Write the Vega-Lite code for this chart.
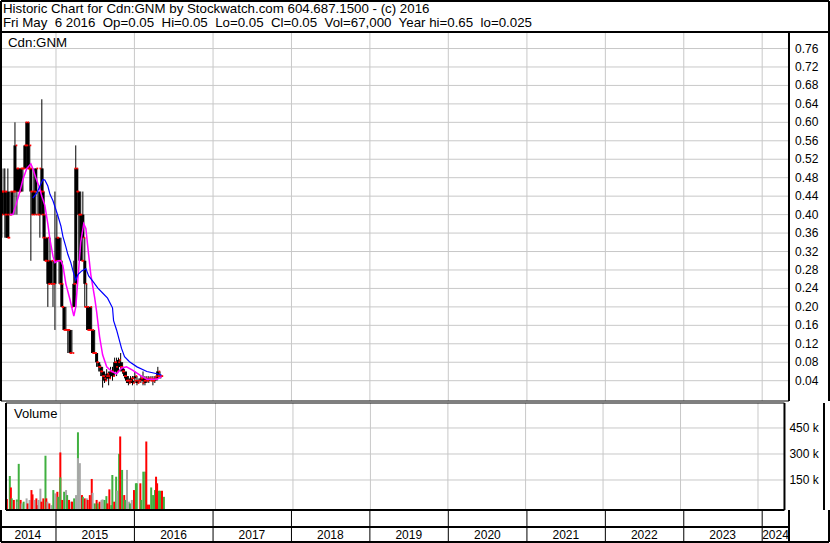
{
  "$schema": "https://vega.github.io/schema/vega-lite/v6.json",
  "padding": 0,
  "background": "white",
  "spacing": 2,
  "bounds": "flush",
  "config": {
    "view": {"stroke": null},
    "font": "Liberation Sans",
    "text": {"font": "Liberation Sans", "color": "black"}
  },
  "datasets": {
    "years": [
      {"d": "2015-01-01"}, {"d": "2016-01-01"}, {"d": "2017-01-01"}, {"d": "2018-01-01"}, {"d": "2019-01-01"},
      {"d": "2020-01-01"}, {"d": "2021-01-01"}, {"d": "2022-01-01"}, {"d": "2023-01-01"}, {"d": "2024-01-01"}
    ],
    "ylab": [
      {"t": "2014", "d": "2014-08-23"}, {"t": "2015", "d": "2015-07-01"}, {"t": "2016", "d": "2016-07-01"},
      {"t": "2017", "d": "2017-07-01"}, {"t": "2018", "d": "2018-07-01"}, {"t": "2019", "d": "2019-07-01"},
      {"t": "2020", "d": "2020-07-01"}, {"t": "2021", "d": "2021-07-01"}, {"t": "2022", "d": "2022-07-01"},
      {"t": "2023", "d": "2023-07-01"}, {"t": "2024", "d": "2024-03-03"}
    ],
    "pticks": [
      {"v": 0.04}, {"v": 0.08}, {"v": 0.12}, {"v": 0.16}, {"v": 0.2}, {"v": 0.24}, {"v": 0.28}, {"v": 0.32},
      {"v": 0.36}, {"v": 0.4}, {"v": 0.44}, {"v": 0.48}, {"v": 0.52}, {"v": 0.56}, {"v": 0.6}, {"v": 0.64},
      {"v": 0.68}, {"v": 0.72}, {"v": 0.76}
    ],
    "vticks": [{"v": 150000, "t": "150 k"}, {"v": 300000, "t": "300 k"}, {"v": 450000, "t": "450 k"}],
    "ohlc": [
      {"d": "2014-04-20", "o": 0.45, "h": 0.5, "l": 0.35, "c": 0.4},
      {"d": "2014-04-24", "o": 0.4, "h": 0.5, "l": 0.35, "c": 0.45},
      {"d": "2014-05-04", "o": 0.45, "h": 0.5, "l": 0.4, "c": 0.45},
      {"d": "2014-05-08", "o": 0.45, "h": 0.5, "l": 0.35, "c": 0.4},
      {"d": "2014-05-17", "o": 0.4, "h": 0.45, "l": 0.35, "c": 0.35},
      {"d": "2014-05-22", "o": 0.45, "h": 0.5, "l": 0.35, "c": 0.35},
      {"d": "2014-05-31", "o": 0.4, "h": 0.45, "l": 0.4, "c": 0.4},
      {"d": "2014-06-10", "o": 0.4, "h": 0.45, "l": 0.4, "c": 0.45},
      {"d": "2014-06-14", "o": 0.45, "h": 0.45, "l": 0.4, "c": 0.45},
      {"d": "2014-06-24", "o": 0.45, "h": 0.6, "l": 0.4, "c": 0.55},
      {"d": "2014-07-03", "o": 0.45, "h": 0.5, "l": 0.4, "c": 0.5},
      {"d": "2014-07-12", "o": 0.5, "h": 0.5, "l": 0.45, "c": 0.45},
      {"d": "2014-07-22", "o": 0.45, "h": 0.5, "l": 0.45, "c": 0.5},
      {"d": "2014-07-31", "o": 0.5, "h": 0.5, "l": 0.45, "c": 0.5},
      {"d": "2014-08-09", "o": 0.5, "h": 0.55, "l": 0.5, "c": 0.55},
      {"d": "2014-08-18", "o": 0.55, "h": 0.6, "l": 0.5, "c": 0.6},
      {"d": "2014-08-23", "o": 0.6, "h": 0.6, "l": 0.5, "c": 0.5},
      {"d": "2014-08-28", "o": 0.55, "h": 0.6, "l": 0.5, "c": 0.55},
      {"d": "2014-09-01", "o": 0.5, "h": 0.55, "l": 0.5, "c": 0.5},
      {"d": "2014-09-06", "o": 0.5, "h": 0.5, "l": 0.3, "c": 0.45},
      {"d": "2014-09-15", "o": 0.45, "h": 0.45, "l": 0.4, "c": 0.4},
      {"d": "2014-09-20", "o": 0.4, "h": 0.5, "l": 0.4, "c": 0.45},
      {"d": "2014-09-29", "o": 0.45, "h": 0.5, "l": 0.4, "c": 0.5},
      {"d": "2014-10-09", "o": 0.4, "h": 0.45, "l": 0.4, "c": 0.4},
      {"d": "2014-10-18", "o": 0.4, "h": 0.45, "l": 0.35, "c": 0.45},
      {"d": "2014-10-27", "o": 0.5, "h": 0.65, "l": 0.4, "c": 0.45},
      {"d": "2014-11-01", "o": 0.45, "h": 0.5, "l": 0.4, "c": 0.4},
      {"d": "2014-11-06", "o": 0.4, "h": 0.45, "l": 0.35, "c": 0.35},
      {"d": "2014-11-10", "o": 0.35, "h": 0.4, "l": 0.3, "c": 0.3},
      {"d": "2014-11-20", "o": 0.3, "h": 0.35, "l": 0.3, "c": 0.35},
      {"d": "2014-11-24", "o": 0.3, "h": 0.3, "l": 0.2, "c": 0.25},
      {"d": "2014-12-04", "o": 0.3, "h": 0.35, "l": 0.25, "c": 0.25},
      {"d": "2014-12-08", "o": 0.25, "h": 0.3, "l": 0.25, "c": 0.3},
      {"d": "2014-12-18", "o": 0.25, "h": 0.3, "l": 0.2, "c": 0.25},
      {"d": "2014-12-27", "o": 0.25, "h": 0.45, "l": 0.15, "c": 0.3},
      {"d": "2015-01-05", "o": 0.3, "h": 0.4, "l": 0.3, "c": 0.35},
      {"d": "2015-01-15", "o": 0.35, "h": 0.35, "l": 0.25, "c": 0.3},
      {"d": "2015-01-24", "o": 0.3, "h": 0.35, "l": 0.25, "c": 0.25},
      {"d": "2015-01-28", "o": 0.25, "h": 0.3, "l": 0.2, "c": 0.2},
      {"d": "2015-02-07", "o": 0.2, "h": 0.2, "l": 0.15, "c": 0.15},
      {"d": "2015-02-16", "o": 0.15, "h": 0.2, "l": 0.15, "c": 0.15},
      {"d": "2015-02-25", "o": 0.15, "h": 0.15, "l": 0.1, "c": 0.15},
      {"d": "2015-03-07", "o": 0.15, "h": 0.15, "l": 0.1, "c": 0.1},
      {"d": "2015-03-16", "o": 0.1, "h": 0.15, "l": 0.1, "c": 0.1},
      {"d": "2015-03-25", "o": 0.2, "h": 0.3, "l": 0.2, "c": 0.25},
      {"d": "2015-04-03", "o": 0.25, "h": 0.55, "l": 0.2, "c": 0.5},
      {"d": "2015-04-08", "o": 0.5, "h": 0.5, "l": 0.4, "c": 0.45},
      {"d": "2015-04-17", "o": 0.45, "h": 0.45, "l": 0.3, "c": 0.4},
      {"d": "2015-04-26", "o": 0.4, "h": 0.45, "l": 0.3, "c": 0.3},
      {"d": "2015-05-06", "o": 0.4, "h": 0.45, "l": 0.3, "c": 0.35},
      {"d": "2015-05-15", "o": 0.3, "h": 0.35, "l": 0.2, "c": 0.25},
      {"d": "2015-05-24", "o": 0.2, "h": 0.25, "l": 0.15, "c": 0.2},
      {"d": "2015-05-29", "o": 0.2, "h": 0.2, "l": 0.15, "c": 0.15},
      {"d": "2015-06-07", "o": 0.15, "h": 0.2, "l": 0.15, "c": 0.2},
      {"d": "2015-06-16", "o": 0.15, "h": 0.2, "l": 0.1, "c": 0.15},
      {"d": "2015-06-21", "o": 0.15, "h": 0.15, "l": 0.1, "c": 0.1},
      {"d": "2015-06-30", "o": 0.1, "h": 0.15, "l": 0.1, "c": 0.1},
      {"d": "2015-07-09", "o": 0.1, "h": 0.1, "l": 0.07, "c": 0.08},
      {"d": "2015-07-19", "o": 0.08, "h": 0.08, "l": 0.06, "c": 0.07},
      {"d": "2015-07-28", "o": 0.07, "h": 0.075, "l": 0.05, "c": 0.06},
      {"d": "2015-08-06", "o": 0.06, "h": 0.07, "l": 0.025, "c": 0.05},
      {"d": "2015-08-15", "o": 0.05, "h": 0.06, "l": 0.035, "c": 0.04},
      {"d": "2015-08-25", "o": 0.045, "h": 0.065, "l": 0.04, "c": 0.055},
      {"d": "2015-09-03", "o": 0.05, "h": 0.06, "l": 0.03, "c": 0.045},
      {"d": "2015-09-12", "o": 0.05, "h": 0.07, "l": 0.045, "c": 0.06},
      {"d": "2015-09-21", "o": 0.06, "h": 0.07, "l": 0.04, "c": 0.05},
      {"d": "2015-10-01", "o": 0.06, "h": 0.09, "l": 0.05, "c": 0.08},
      {"d": "2015-10-10", "o": 0.08, "h": 0.09, "l": 0.05, "c": 0.06},
      {"d": "2015-10-19", "o": 0.07, "h": 0.09, "l": 0.06, "c": 0.085},
      {"d": "2015-10-29", "o": 0.08, "h": 0.1, "l": 0.06, "c": 0.07},
      {"d": "2015-11-07", "o": 0.07, "h": 0.08, "l": 0.055, "c": 0.06},
      {"d": "2015-11-16", "o": 0.06, "h": 0.065, "l": 0.045, "c": 0.05},
      {"d": "2015-11-25", "o": 0.05, "h": 0.06, "l": 0.035, "c": 0.04},
      {"d": "2015-12-04", "o": 0.04, "h": 0.05, "l": 0.03, "c": 0.035},
      {"d": "2015-12-14", "o": 0.04, "h": 0.05, "l": 0.035, "c": 0.045},
      {"d": "2015-12-23", "o": 0.04, "h": 0.05, "l": 0.03, "c": 0.035},
      {"d": "2016-01-03", "o": 0.045, "h": 0.06, "l": 0.035, "c": 0.05},
      {"d": "2016-01-13", "o": 0.04, "h": 0.05, "l": 0.03, "c": 0.035},
      {"d": "2016-01-22", "o": 0.04, "h": 0.045, "l": 0.035, "c": 0.04},
      {"d": "2016-01-31", "o": 0.04, "h": 0.05, "l": 0.035, "c": 0.045},
      {"d": "2016-02-10", "o": 0.045, "h": 0.06, "l": 0.03, "c": 0.04},
      {"d": "2016-02-19", "o": 0.035, "h": 0.05, "l": 0.03, "c": 0.045},
      {"d": "2016-02-28", "o": 0.04, "h": 0.05, "l": 0.035, "c": 0.04},
      {"d": "2016-03-08", "o": 0.04, "h": 0.05, "l": 0.035, "c": 0.045},
      {"d": "2016-03-18", "o": 0.045, "h": 0.05, "l": 0.04, "c": 0.045},
      {"d": "2016-03-27", "o": 0.04, "h": 0.05, "l": 0.03, "c": 0.04},
      {"d": "2016-04-05", "o": 0.04, "h": 0.05, "l": 0.035, "c": 0.045},
      {"d": "2016-04-15", "o": 0.045, "h": 0.06, "l": 0.04, "c": 0.05},
      {"d": "2016-04-19", "o": 0.05, "h": 0.07, "l": 0.045, "c": 0.06},
      {"d": "2016-04-29", "o": 0.05, "h": 0.06, "l": 0.045, "c": 0.05},
      {"d": "2016-05-03", "o": 0.05, "h": 0.05, "l": 0.045, "c": 0.05}
    ],
    "mag": [
      {"d": "2014-05-31", "v": 0.4}, {"d": "2014-06-14", "v": 0.4}, {"d": "2014-06-28", "v": 0.42},
      {"d": "2014-07-17", "v": 0.45}, {"d": "2014-07-31", "v": 0.476}, {"d": "2014-08-18", "v": 0.5},
      {"d": "2014-09-06", "v": 0.51}, {"d": "2014-09-15", "v": 0.5}, {"d": "2014-09-29", "v": 0.48},
      {"d": "2014-10-13", "v": 0.462}, {"d": "2014-10-27", "v": 0.44}, {"d": "2014-11-10", "v": 0.42},
      {"d": "2014-11-24", "v": 0.38}, {"d": "2014-12-04", "v": 0.346}, {"d": "2014-12-18", "v": 0.31},
      {"d": "2014-12-27", "v": 0.296}, {"d": "2015-01-10", "v": 0.3}, {"d": "2015-01-24", "v": 0.3},
      {"d": "2015-02-02", "v": 0.29}, {"d": "2015-02-16", "v": 0.25}, {"d": "2015-03-07", "v": 0.216},
      {"d": "2015-03-25", "v": 0.18}, {"d": "2015-04-03", "v": 0.2}, {"d": "2015-04-13", "v": 0.26},
      {"d": "2015-04-26", "v": 0.34}, {"d": "2015-05-10", "v": 0.38}, {"d": "2015-05-20", "v": 0.37},
      {"d": "2015-05-29", "v": 0.33}, {"d": "2015-06-12", "v": 0.27}, {"d": "2015-06-30", "v": 0.22},
      {"d": "2015-07-09", "v": 0.19}, {"d": "2015-07-23", "v": 0.135}, {"d": "2015-08-06", "v": 0.096},
      {"d": "2015-08-25", "v": 0.07}, {"d": "2015-09-17", "v": 0.06}, {"d": "2015-10-10", "v": 0.055},
      {"d": "2015-11-02", "v": 0.067}, {"d": "2015-11-25", "v": 0.07}, {"d": "2015-12-23", "v": 0.063},
      {"d": "2016-01-27", "v": 0.052}, {"d": "2016-02-28", "v": 0.043}, {"d": "2016-03-27", "v": 0.043},
      {"d": "2016-04-15", "v": 0.043}, {"d": "2016-05-06", "v": 0.049}
    ],
    "blue": [
      {"d": "2014-09-15", "v": 0.436}, {"d": "2014-10-04", "v": 0.447}, {"d": "2014-10-23", "v": 0.467},
      {"d": "2014-11-01", "v": 0.476}, {"d": "2014-11-10", "v": 0.475}, {"d": "2014-11-24", "v": 0.462},
      {"d": "2014-12-04", "v": 0.444}, {"d": "2014-12-18", "v": 0.43}, {"d": "2015-01-01", "v": 0.41},
      {"d": "2015-01-10", "v": 0.397}, {"d": "2015-01-24", "v": 0.375}, {"d": "2015-02-02", "v": 0.353},
      {"d": "2015-02-16", "v": 0.33}, {"d": "2015-02-25", "v": 0.314}, {"d": "2015-03-11", "v": 0.296},
      {"d": "2015-03-21", "v": 0.278}, {"d": "2015-04-03", "v": 0.258}, {"d": "2015-04-13", "v": 0.27},
      {"d": "2015-05-01", "v": 0.278}, {"d": "2015-05-20", "v": 0.283}, {"d": "2015-06-02", "v": 0.267},
      {"d": "2015-06-21", "v": 0.256}, {"d": "2015-07-14", "v": 0.241}, {"d": "2015-08-06", "v": 0.23},
      {"d": "2015-08-29", "v": 0.219}, {"d": "2015-09-21", "v": 0.198}, {"d": "2015-09-26", "v": 0.17},
      {"d": "2015-10-10", "v": 0.15}, {"d": "2015-11-02", "v": 0.11}, {"d": "2015-11-16", "v": 0.092},
      {"d": "2015-12-09", "v": 0.081}, {"d": "2016-01-13", "v": 0.07}, {"d": "2016-02-28", "v": 0.06},
      {"d": "2016-04-15", "v": 0.055}, {"d": "2016-05-06", "v": 0.052}
    ],
    "vol": [
      {"d": "2014-04-20", "v": 55000, "c": "f"}, {"d": "2014-04-24", "v": 40000, "c": "d"},
      {"d": "2014-05-08", "v": 173000, "c": "u"}, {"d": "2014-05-13", "v": 107000, "c": "d"},
      {"d": "2014-05-17", "v": 44000, "c": "u"}, {"d": "2014-05-27", "v": 35000, "c": "d"},
      {"d": "2014-06-10", "v": 38000, "c": "u"}, {"d": "2014-06-14", "v": 25000, "c": "f"},
      {"d": "2014-06-19", "v": 243000, "c": "u"}, {"d": "2014-06-28", "v": 35000, "c": "d"},
      {"d": "2014-07-03", "v": 15000, "c": "f"}, {"d": "2014-07-12", "v": 25000, "c": "u"},
      {"d": "2014-07-26", "v": 44000, "c": "f"}, {"d": "2014-07-31", "v": 15000, "c": "d"},
      {"d": "2014-08-09", "v": 35000, "c": "f"}, {"d": "2014-08-18", "v": 92000, "c": "d"},
      {"d": "2014-08-23", "v": 67000, "c": "d"}, {"d": "2014-09-01", "v": 35000, "c": "f"},
      {"d": "2014-09-10", "v": 44000, "c": "d"}, {"d": "2014-09-15", "v": 5000, "c": "d"},
      {"d": "2014-09-20", "v": 35000, "c": "f"}, {"d": "2014-09-29", "v": 100000, "c": "f"},
      {"d": "2014-10-04", "v": 25000, "c": "d"}, {"d": "2014-10-13", "v": 44000, "c": "d"},
      {"d": "2014-10-23", "v": 290000, "c": "u"}, {"d": "2014-10-27", "v": 44000, "c": "d"},
      {"d": "2014-11-01", "v": 25000, "c": "f"}, {"d": "2014-11-10", "v": 15000, "c": "d"},
      {"d": "2014-11-20", "v": 5000, "c": "f"}, {"d": "2014-11-29", "v": 92000, "c": "u"},
      {"d": "2014-12-08", "v": 73000, "c": "f"}, {"d": "2014-12-18", "v": 82000, "c": "d"},
      {"d": "2014-12-22", "v": 53000, "c": "u"}, {"d": "2015-01-01", "v": 309000, "c": "d"},
      {"d": "2015-01-01", "v": 165000, "c": "u"}, {"d": "2015-01-10", "v": 35000, "c": "d"},
      {"d": "2015-01-19", "v": 82000, "c": "u"}, {"d": "2015-01-28", "v": 92000, "c": "f"},
      {"d": "2015-02-02", "v": 63000, "c": "u"}, {"d": "2015-02-11", "v": 35000, "c": "d"},
      {"d": "2015-02-21", "v": 25000, "c": "f"}, {"d": "2015-02-25", "v": 25000, "c": "d"},
      {"d": "2015-03-07", "v": 44000, "c": "u"}, {"d": "2015-03-16", "v": 63000, "c": "f"},
      {"d": "2015-03-25", "v": 425000, "c": "u"}, {"d": "2015-03-25", "v": 276000, "c": "f"},
      {"d": "2015-04-03", "v": 247000, "c": "f"}, {"d": "2015-04-13", "v": 63000, "c": "d"},
      {"d": "2015-04-17", "v": 53000, "c": "u"}, {"d": "2015-04-26", "v": 44000, "c": "d"},
      {"d": "2015-05-06", "v": 44000, "c": "f"}, {"d": "2015-05-10", "v": 35000, "c": "d"},
      {"d": "2015-05-20", "v": 63000, "c": "d"}, {"d": "2015-05-29", "v": 156000, "c": "d"},
      {"d": "2015-06-02", "v": 76000, "c": "f"}, {"d": "2015-06-12", "v": 15000, "c": "u"},
      {"d": "2015-06-21", "v": 35000, "c": "d"}, {"d": "2015-06-26", "v": 15000, "c": "u"},
      {"d": "2015-07-05", "v": 25000, "c": "d"}, {"d": "2015-07-14", "v": 35000, "c": "f"},
      {"d": "2015-07-19", "v": 38000, "c": "f"}, {"d": "2015-07-28", "v": 35000, "c": "u"},
      {"d": "2015-08-06", "v": 57000, "c": "u"}, {"d": "2015-08-11", "v": 15000, "c": "d"},
      {"d": "2015-08-20", "v": 96000, "c": "d"}, {"d": "2015-08-29", "v": 5000, "c": "u"},
      {"d": "2015-09-03", "v": 179000, "c": "u"}, {"d": "2015-09-12", "v": 25000, "c": "d"},
      {"d": "2015-09-21", "v": 169000, "c": "u"}, {"d": "2015-09-26", "v": 88000, "c": "f"},
      {"d": "2015-10-05", "v": 301000, "c": "u"}, {"d": "2015-10-10", "v": 401000, "c": "d"},
      {"d": "2015-10-19", "v": 208000, "c": "u"}, {"d": "2015-10-29", "v": 63000, "c": "d"},
      {"d": "2015-11-02", "v": 35000, "c": "u"}, {"d": "2015-11-11", "v": 208000, "c": "f"},
      {"d": "2015-11-21", "v": 25000, "c": "f"}, {"d": "2015-11-25", "v": 15000, "c": "u"},
      {"d": "2015-12-04", "v": 35000, "c": "f"}, {"d": "2015-12-14", "v": 92000, "c": "d"},
      {"d": "2015-12-23", "v": 131000, "c": "u"}, {"d": "2015-12-27", "v": 131000, "c": "u"},
      {"d": "2016-01-13", "v": 131000, "c": "d"}, {"d": "2016-01-17", "v": 35000, "c": "u"},
      {"d": "2016-01-27", "v": 198000, "c": "u"}, {"d": "2016-02-05", "v": 198000, "c": "u"},
      {"d": "2016-02-10", "v": 372000, "c": "d"}, {"d": "2016-02-14", "v": 8000, "c": "d"},
      {"d": "2016-02-23", "v": 8000, "c": "d"}, {"d": "2016-03-04", "v": 107000, "c": "u"},
      {"d": "2016-03-13", "v": 63000, "c": "u"}, {"d": "2016-03-22", "v": 92000, "c": "u"},
      {"d": "2016-03-27", "v": 169000, "c": "d"}, {"d": "2016-04-01", "v": 131000, "c": "d"},
      {"d": "2016-04-10", "v": 88000, "c": "u"}, {"d": "2016-04-15", "v": 88000, "c": "u"},
      {"d": "2016-04-24", "v": 88000, "c": "d"}, {"d": "2016-05-03", "v": 53000, "c": "u"}
    ]
  },
  "vconcat": [
    {
      "width": 828,
      "height": 400,
      "layer": [
        {
          "data": {"name": "years"},
          "mark": {"type": "rule", "color": "#c8c8c8", "strokeWidth": 1},
          "encoding": {
            "x": {"field": "d", "type": "temporal", "axis": null, "scale": {"domain": [{"year": 2014, "month": 4, "date": 20}, {"year": 2024, "month": 11, "date": 7}], "nice": false}},
            "y": {"datum": 0.7958, "type": "quantitative", "axis": null, "scale": {"domain": [-0.004, 0.863], "nice": false, "zero": false}},
            "y2": {"datum": -0.004}
          }
        },
        {
          "data": {"name": "pticks"},
          "mark": {"type": "rule", "color": "#c8c8c8", "strokeWidth": 1},
          "encoding": {
            "y": {"field": "v", "type": "quantitative", "axis": null},
            "x": {"datum": {"year": 2014, "month": 4, "date": 20}, "type": "temporal", "axis": null},
            "x2": {"datum": {"year": 2024, "month": 5, "date": 4, "hours": 19}}
          }
        },
        {
          "data": {"name": "pticks"},
          "mark": {"type": "text", "align": "left", "baseline": "middle", "fontSize": 12, "font": "Liberation Sans", "color": "black"},
          "encoding": {
            "y": {"field": "v", "type": "quantitative", "axis": null},
            "x": {"datum": {"year": 2024, "month": 6, "date": 1, "hours": 19}, "type": "temporal", "axis": null},
            "text": {"field": "v", "type": "quantitative", "format": ".2f"}
          }
        },
        {
          "data": {"name": "ohlc"},
          "mark": {"type": "rule", "color": "black", "strokeWidth": 1, "clip": true},
          "encoding": {
            "x": {"field": "d", "type": "temporal", "axis": null},
            "y": {"field": "l", "type": "quantitative", "axis": null},
            "y2": {"field": "h"}
          }
        },
        {
          "data": {"name": "ohlc"},
          "mark": {"type": "rule", "color": "black", "strokeWidth": 3, "clip": true},
          "encoding": {
            "x": {"field": "d", "type": "temporal", "axis": null},
            "y": {"field": "o", "type": "quantitative", "axis": null},
            "y2": {"field": "c"}
          }
        },
        {
          "data": {"name": "ohlc"},
          "mark": {"type": "square", "color": "#ff0000", "filled": true, "opacity": 1, "size": 3, "xOffset": 1.5, "clip": true},
          "encoding": {
            "x": {"field": "d", "type": "temporal", "axis": null},
            "y": {"field": "c", "type": "quantitative", "axis": null}
          }
        },
        {
          "data": {"name": "ohlc"},
          "mark": {"type": "square", "color": "#ff0000", "filled": true, "opacity": 1, "size": 3, "xOffset": -1.5, "clip": true},
          "encoding": {
            "x": {"field": "d", "type": "temporal", "axis": null},
            "y": {"field": "o", "type": "quantitative", "axis": null}
          }
        },
        {
          "data": {"name": "mag"},
          "mark": {"type": "line", "color": "#ff00ff", "strokeWidth": 1.5, "clip": true},
          "encoding": {
            "x": {"field": "d", "type": "temporal", "axis": null},
            "y": {"field": "v", "type": "quantitative", "axis": null}
          }
        },
        {
          "data": {"name": "blue"},
          "mark": {"type": "line", "color": "#0000ff", "strokeWidth": 1.2, "clip": true},
          "encoding": {
            "x": {"field": "d", "type": "temporal", "axis": null},
            "y": {"field": "v", "type": "quantitative", "axis": null}
          }
        },
        {
          "data": {"values": [{}]},
          "mark": {"type": "rule", "color": "black", "strokeWidth": 2},
          "encoding": {
            "x": {"datum": {"year": 2024, "month": 5, "date": 4, "hours": 19}, "type": "temporal", "axis": null},
            "y": {"datum": 0.7958, "type": "quantitative", "axis": null},
            "y2": {"datum": -0.004}
          }
        },
        {
          "data": {"values": [{}]},
          "mark": {"type": "rule", "color": "black", "strokeWidth": 2},
          "encoding": {
            "y": {"datum": 0.7958, "type": "quantitative", "axis": null}
          }
        },
        {
          "data": {"values": [{}]},
          "mark": {"type": "rule", "color": "black", "strokeWidth": 2},
          "encoding": {
            "y": {"datum": 0.863, "type": "quantitative", "axis": null}
          }
        },
        {
          "data": {"values": [{}]},
          "mark": {"type": "rule", "color": "black", "strokeWidth": 2},
          "encoding": {
            "x": {"datum": {"year": 2014, "month": 4, "date": 20}, "type": "temporal", "axis": null}
          }
        },
        {
          "data": {"values": [{}]},
          "mark": {"type": "rule", "color": "black", "strokeWidth": 2},
          "encoding": {
            "x": {"datum": {"year": 2024, "month": 11, "date": 7}, "type": "temporal", "axis": null}
          }
        },
        {
          "data": {"values": [{}]},
          "mark": {"type": "rule", "color": "black", "strokeWidth": 1},
          "encoding": {
            "y": {"datum": -0.004, "type": "quantitative", "axis": null},
            "x": {"datum": {"year": 2014, "month": 4, "date": 20}, "type": "temporal", "axis": null},
            "x2": {"datum": {"year": 2024, "month": 5, "date": 4, "hours": 19}}
          }
        },
        {
          "data": {"values": [{}]},
          "mark": {"type": "text", "text": "Historic Chart for Cdn:GNM by Stockwatch.com 604.687.1500 - (c) 2016", "align": "left", "baseline": "alphabetic", "dx": 2, "fontSize": 13.3, "font": "Liberation Sans", "color": "black"},
          "encoding": {
            "x": {"datum": {"year": 2014, "month": 4, "date": 20}, "type": "temporal", "axis": null},
            "y": {"datum": 0.8363, "type": "quantitative", "axis": null}
          }
        },
        {
          "data": {"values": [{}]},
          "mark": {"type": "text", "text": "Fri May\u00a0 6 2016\u00a0 Op=0.05\u00a0 Hi=0.05\u00a0 Lo=0.05\u00a0 Cl=0.05\u00a0 Vol=67,000\u00a0 Year hi=0.65\u00a0 lo=0.025", "align": "left", "baseline": "alphabetic", "dx": 2, "fontSize": 13.3, "font": "Liberation Sans", "color": "black"},
          "encoding": {
            "x": {"datum": {"year": 2014, "month": 4, "date": 20}, "type": "temporal", "axis": null},
            "y": {"datum": 0.806, "type": "quantitative", "axis": null}
          }
        },
        {
          "data": {"values": [{}]},
          "mark": {"type": "text", "text": "Cdn:GNM", "align": "left", "baseline": "alphabetic", "dx": 7, "fontSize": 13.3, "font": "Liberation Sans", "color": "black"},
          "encoding": {
            "x": {"datum": {"year": 2014, "month": 4, "date": 20}, "type": "temporal", "axis": null},
            "y": {"datum": 0.764, "type": "quantitative", "axis": null}
          }
        }
      ]
    },
    {
      "spacing": 0,
      "bounds": "flush",
      "vconcat": [
        {
          "width": 828,
          "height": 107,
          "layer": [
            {
              "data": {"name": "years"},
              "mark": {"type": "rule", "color": "#c8c8c8", "strokeWidth": 1},
              "encoding": {
                "x": {"field": "d", "type": "temporal", "axis": null, "scale": {"domain": [{"year": 2014, "month": 4, "date": 20}, {"year": 2024, "month": 11, "date": 7}], "nice": false}}
              }
            },
            {
              "data": {"name": "vticks"},
              "mark": {"type": "rule", "color": "#c8c8c8", "strokeWidth": 1},
              "encoding": {
                "y": {"field": "v", "type": "quantitative", "scale": {"domain": [-23000, 594000], "nice": false, "zero": false}, "axis": null},
                "x": {"datum": {"year": 2014, "month": 4, "date": 20}, "type": "temporal", "axis": null},
                "x2": {"datum": {"year": 2024, "month": 5, "date": 4, "hours": 19}}
              }
            },
            {
              "data": {"name": "vticks"},
              "mark": {"type": "text", "align": "left", "baseline": "middle", "fontSize": 12, "font": "Liberation Sans", "color": "black"},
              "encoding": {
                "y": {"field": "v", "type": "quantitative", "axis": null},
                "x": {"datum": {"year": 2024, "month": 5, "date": 28}, "type": "temporal", "axis": null},
                "text": {"field": "t"}
              }
            },
            {
              "data": {"name": "vol"},
              "mark": {"type": "bar", "width": 2, "clip": true},
              "encoding": {
                "x": {"field": "d", "type": "temporal", "axis": null},
                "y": {"field": "v", "type": "quantitative", "axis": null},
                "y2": {"datum": -23000},
                "color": {"field": "c", "type": "nominal", "scale": {"domain": ["u", "d", "f"], "range": ["#40b040", "#ff0000", "#a8a8a8"]}, "legend": null}
              }
            },
            {
              "data": {"values": [{}]},
              "mark": {"type": "rule", "color": "black", "strokeWidth": 2},
              "encoding": {
                "x": {"datum": {"year": 2024, "month": 5, "date": 4, "hours": 19}, "type": "temporal", "axis": null}
              }
            },
            {
              "data": {"values": [{}]},
              "mark": {"type": "rule", "color": "black", "strokeWidth": 2},
              "encoding": {
                "x": {"datum": {"year": 2014, "month": 4, "date": 20}, "type": "temporal", "axis": null}
              }
            },
            {
              "data": {"values": [{}]},
              "mark": {"type": "rule", "color": "black", "strokeWidth": 2},
              "encoding": {
                "x": {"datum": {"year": 2024, "month": 11, "date": 7}, "type": "temporal", "axis": null}
              }
            },
            {
              "data": {"values": [{}]},
              "mark": {"type": "rule", "color": "black", "strokeWidth": 1},
              "encoding": {
                "y": {"datum": 594000, "type": "quantitative", "axis": null},
                "x": {"datum": {"year": 2014, "month": 4, "date": 20}, "type": "temporal", "axis": null},
                "x2": {"datum": {"year": 2024, "month": 5, "date": 4, "hours": 19}}
              }
            },
            {
              "data": {"values": [{}]},
              "mark": {"type": "rule", "color": "black", "strokeWidth": 2},
              "encoding": {
                "y": {"datum": -23000, "type": "quantitative", "axis": null},
                "x": {"datum": {"year": 2014, "month": 4, "date": 20}, "type": "temporal", "axis": null},
                "x2": {"datum": {"year": 2024, "month": 5, "date": 4, "hours": 19}}
              }
            },
            {
              "data": {"values": [{}]},
              "mark": {"type": "text", "text": "Volume", "align": "left", "baseline": "alphabetic", "dx": 8, "fontSize": 13, "font": "Liberation Sans", "color": "black"},
              "encoding": {
                "x": {"datum": {"year": 2014, "month": 4, "date": 20}, "type": "temporal", "axis": null},
                "y": {"datum": 505800, "type": "quantitative", "axis": null}
              }
            }
          ]
        },
        {
          "width": 828,
          "height": 17,
          "layer": [
            {
              "data": {"name": "years"},
              "mark": {"type": "rule", "color": "black", "strokeWidth": 1},
              "encoding": {
                "x": {"field": "d", "type": "temporal", "axis": null, "scale": {"domain": [{"year": 2014, "month": 4, "date": 20}, {"year": 2024, "month": 11, "date": 7}], "nice": false}}
              }
            },
            {
              "data": {"values": [{}]},
              "mark": {"type": "rule", "color": "black", "strokeWidth": 2},
              "encoding": {
                "x": {"datum": {"year": 2024, "month": 5, "date": 4, "hours": 19}, "type": "temporal", "axis": null}
              }
            },
            {
              "data": {"values": [{}]},
              "mark": {"type": "rule", "color": "black", "strokeWidth": 2},
              "encoding": {
                "x": {"datum": {"year": 2014, "month": 4, "date": 20}, "type": "temporal", "axis": null}
              }
            },
            {
              "data": {"values": [{}]},
              "mark": {"type": "rule", "color": "black", "strokeWidth": 2},
              "encoding": {
                "x": {"datum": {"year": 2024, "month": 11, "date": 7}, "type": "temporal", "axis": null}
              }
            },
            {
              "data": {"values": [{}]},
              "mark": {"type": "rule", "color": "black", "strokeWidth": 2},
              "encoding": {
                "y": {"datum": 0, "type": "quantitative", "axis": null, "scale": {"domain": [0, 1], "nice": false}},
                "x": {"datum": {"year": 2014, "month": 4, "date": 20}, "type": "temporal", "axis": null},
                "x2": {"datum": {"year": 2024, "month": 5, "date": 4, "hours": 19}}
              }
            }
          ]
        },
        {
          "width": 828,
          "height": 15,
          "layer": [
            {
              "data": {"name": "years"},
              "mark": {"type": "rule", "color": "black", "strokeWidth": 1},
              "encoding": {
                "x": {"field": "d", "type": "temporal", "axis": null, "scale": {"domain": [{"year": 2014, "month": 4, "date": 20}, {"year": 2024, "month": 11, "date": 7}], "nice": false}}
              }
            },
            {
              "data": {"values": [{}]},
              "mark": {"type": "rule", "color": "black", "strokeWidth": 2},
              "encoding": {
                "x": {"datum": {"year": 2024, "month": 5, "date": 4, "hours": 19}, "type": "temporal", "axis": null}
              }
            },
            {
              "data": {"values": [{}]},
              "mark": {"type": "rule", "color": "black", "strokeWidth": 2},
              "encoding": {
                "x": {"datum": {"year": 2014, "month": 4, "date": 20}, "type": "temporal", "axis": null}
              }
            },
            {
              "data": {"values": [{}]},
              "mark": {"type": "rule", "color": "black", "strokeWidth": 2},
              "encoding": {
                "x": {"datum": {"year": 2024, "month": 11, "date": 7}, "type": "temporal", "axis": null}
              }
            },
            {
              "data": {"values": [{}]},
              "mark": {"type": "rule", "color": "black", "strokeWidth": 2},
              "encoding": {
                "y": {"datum": 0, "type": "quantitative", "axis": null, "scale": {"domain": [0, 1], "nice": false}}
              }
            },
            {
              "data": {"name": "ylab"},
              "mark": {"type": "text", "align": "center", "baseline": "middle", "fontSize": 12, "font": "Liberation Sans", "color": "black"},
              "encoding": {
                "x": {"field": "d", "type": "temporal", "axis": null},
                "text": {"field": "t"}
              }
            }
          ]
        }
      ]
    }
  ]
}
